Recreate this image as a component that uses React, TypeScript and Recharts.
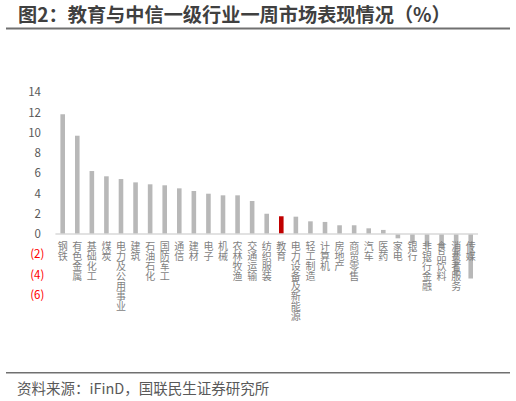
import React from 'react';
import { BarChart, Bar, XAxis, YAxis, ReferenceLine, Cell, LabelList } from 'recharts';

const categories = [
  '钢铁', '有色金属', '基础化工', '煤炭', '电力及公用事业', '建筑', '石油石化', '国防军工',
  '通信', '建材', '电子', '机械', '农林牧渔', '交通运输', '纺织服装', '教育',
  '电力设备及新能源', '轻工制造', '计算机', '房地产', '商贸零售', '汽车', '医药', '家电',
  '银行', '非银行金融', '食品饮料', '消费者服务', '传媒',
];
const changes = [
  11.83, 9.71, 6.22, 5.7, 5.43, 5.1, 4.91, 4.81,
  4.51, 4.25, 3.98, 3.82, 3.82, 3.26, 2.0, 1.75,
  1.71, 1.25, 1.19, 0.86, 0.86, 0.56, 0.4, -0.43,
  -0.92, -1.25, -1.4, -4.1, -4.4,
];
const highlight = '教育';
const yTicks = [-6, -4, -2, 0, 2, 4, 6, 8, 10, 12, 14];
const titleText = '图2：教育与中信一级行业一周市场表现情况（%）';
const sourceText = '资料来源：iFinD，国联民生证券研究所';

const FONT = '"Noto Sans CJK SC", "Noto Sans", sans-serif';

const data = categories.map((name, i) => ({ name, value: changes[i] }));

const YTick = (props: any) => {
  const { x, y, payload } = props;
  const v = Number(payload.value);
  const neg = v < 0;
  return (
    <text
      x={neg ? x : x - 3.5}
      y={y}
      dy="0.36em"
      textAnchor="end"
      fontSize={11.5}
      fontFamily={FONT}
      fill={neg ? '#FF0000' : '#595959'}
    >
      {neg ? `(${-v})` : `${v}`}
    </text>
  );
};

const CatLabel = (props: any) => {
  const vb = props.viewBox && props.viewBox.width !== undefined ? props.viewBox : props;
  const x = Number(vb.x);
  const y = Number(vb.y);
  const width = Number(vb.width);
  const height = Number(vb.height);
  const name = String(props.value);
  const idx = categories.indexOf(name);
  const v = changes[idx];
  const zero = v >= 0 ? Math.max(y, y + height) : Math.min(y, y + height);
  const cx = x + width / 2;
  return (
    <text
      x={cx}
      y={zero + 7}
      textAnchor="start"
      fontSize={10}
      fontFamily={FONT}
      fill="#7F7F7F"
      style={{ writingMode: 'vertical-rl' as any }}
    >
      {name}
    </text>
  );
};

export default function App() {
  return (
    <div style={{ position: 'absolute', left: 0, top: 0, width: 516, height: 401, background: '#fff' }}>
      <BarChart
        width={516}
        height={401}
        data={data}
        margin={{ top: 92.3, right: 38, bottom: 106.3, left: 0 }}
      >
        <XAxis dataKey="name" hide />
        <YAxis
          width={55.4}
          domain={[-6, 14]}
          ticks={yTicks}
          interval={0}
          tickSize={0}
          tickMargin={11}
          axisLine={false}
          tickLine={false}
          tick={<YTick />}
        />
        <ReferenceLine y={0} stroke="#D9D9D9" strokeWidth={1.5} />
        <Bar dataKey="value" barSize={4.6} isAnimationActive={false}>
          {data.map((d) => (
            <Cell key={d.name} fill={d.name === highlight ? '#C00000' : '#B8B8B8'} />
          ))}
          <LabelList dataKey="name" content={<CatLabel />} />
        </Bar>
      </BarChart>
      <svg
        width={516}
        height={401}
        style={{ position: 'absolute', left: 0, top: 0, pointerEvents: 'none' }}
      >
        <text x={18} y={22} fontSize={19.2} fontWeight="bold" fontFamily={FONT} fill="#404040">
          {titleText}
        </text>
        <line x1={6} x2={510} y1={28.5} y2={28.5} stroke="#707070" strokeWidth={1.8} />
        <line x1={6} x2={510} y1={372.7} y2={372.7} stroke="#707070" strokeWidth={1.5} />
        <text x={17} y={393.5} fontSize={14.5} fontFamily={FONT} fill="#595959">
          {sourceText}
        </text>
      </svg>
    </div>
  );
}
